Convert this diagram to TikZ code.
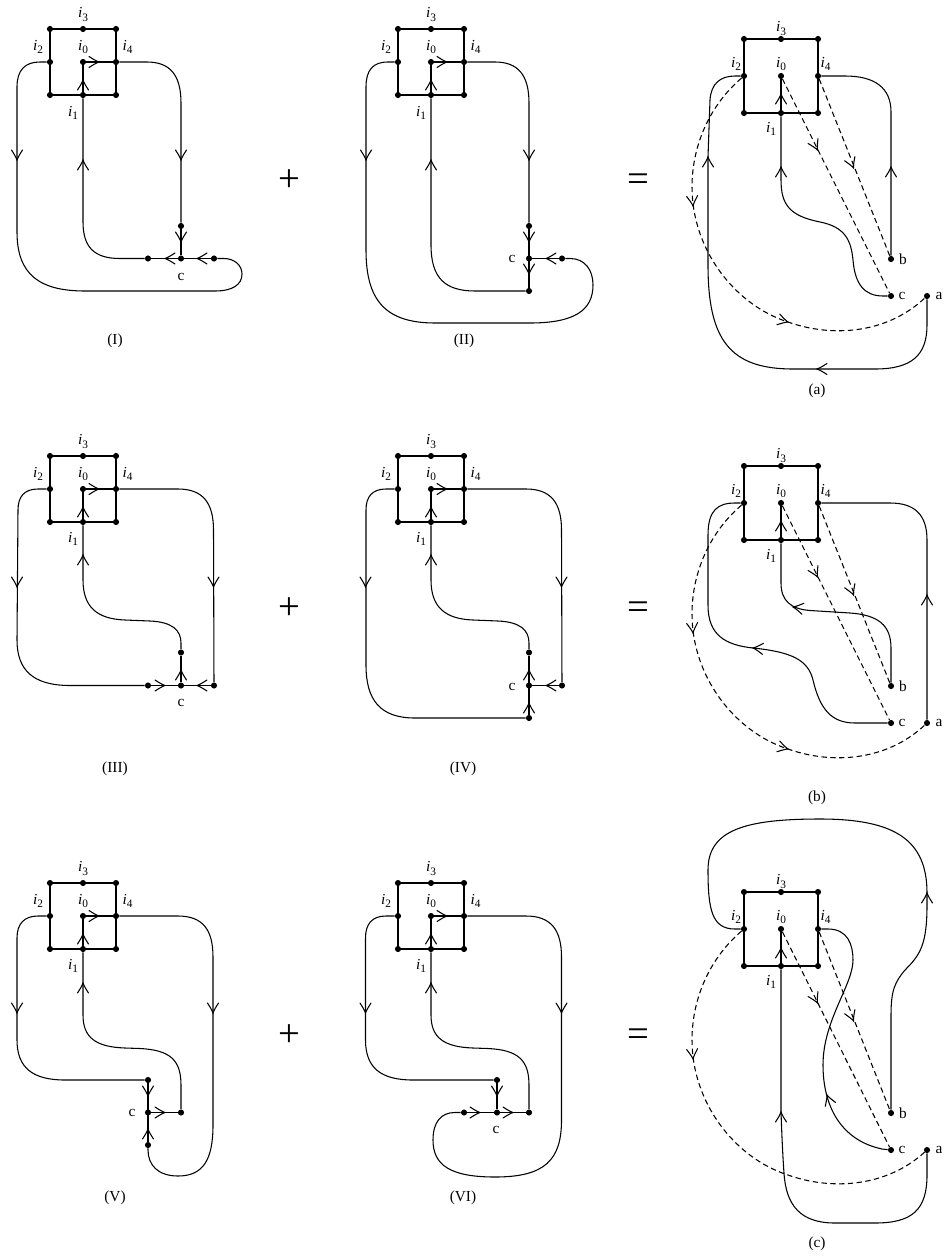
\documentclass[tikz,border=0pt]{standalone}
\usepackage{fontspec}
\setmainfont{Liberation Serif}
\tikzset{
  x=0.75pt,y=-0.75pt,
  dotn/.style={circle,fill=black,draw=none,inner sep=0pt,minimum size=4.6pt},
  lab/.style={inner sep=0pt,font=\fontsize{11.5}{12}\selectfont},
  captn/.style={inner sep=0pt,font=\fontsize{11.5}{12}\selectfont},
  opsign/.style={inner sep=0pt,font=\fontsize{29}{29}\selectfont},
  wire/.style={line width=0.8pt,line join=round},
  dashln/.style={line width=0.8pt,dash pattern=on 4pt off 2.6pt},
  tipln/.style={line width=0.8pt,line cap=round,line join=miter}
}
\newcommand\ilab[1]{\textit{i}\raisebox{-.22em}{\fontsize{8.5}{9}\selectfont #1}}
% #1 name, #2 cx, #3 cy, #4 half side, #5 label row offset, #6 i1 offset
\newcommand\gridbox[6]{%
  \node[dotn] (#1-0) at (#2,#3) {};
  \path (#1-0) ++(-#4,-#4) node[dotn] (#1-nw) {};
  \path (#1-0) ++(0,-#4) node[dotn] (#1-3) {};
  \path (#1-0) ++(#4,-#4) node[dotn] (#1-ne) {};
  \path (#1-0) ++(-#4,0) node[dotn] (#1-2) {};
  \path (#1-0) ++(#4,0) node[dotn] (#1-4) {};
  \path (#1-0) ++(-#4,#4) node[dotn] (#1-sw) {};
  \path (#1-0) ++(0,#4) node[dotn] (#1-1) {};
  \path (#1-0) ++(#4,#4) node[dotn] (#1-se) {};
  \draw[wire] (#1-nw.center) -- (#1-ne.center) -- (#1-se.center) -- (#1-sw.center) -- cycle;
  \draw[wire] (#1-0.center) -- (#1-1.center);
  \path (#1-0) ++(0,-47.5) node[lab] (#1-l3) {\ilab{3}};
  \path (#1-0) ++(-45,#5) node[lab] (#1-l2) {\ilab{2}};
  \path (#1-0) ++(0,#5) node[lab] (#1-l0) {\ilab{0}};
  \path (#1-0) ++(44.5,#5) node[lab] (#1-l4) {\ilab{4}};
  \path (#1-0) ++(-10,#6) node[lab] (#1-l1) {\ilab{1}};
}
\newcommand\vtip[3]{\draw[tipln,shift={(#1,#2)},rotate=#3] (-10,5.5) .. controls (-6,3) and (-3,1) .. (0,0) .. controls (-3,-1) and (-6,-3) .. (-10,-5.5);}
\newcommand\rightdots[2]{%
  % #1 name, #2 vertical shift: shared points a, b, c of the right-hand figures
  \draw[dashln] (#1-0) -- (#1-c);
  \draw[dashln] (#1-4) -- (#1-b);
  \draw[dashln] (#1-2) .. controls (710,{105+#2}) and (692,{145+#2}) .. (692,{187+#2})
     .. controls (692,{250+#2}) and (735,{305+#2}) .. (788,{322+#2})
     .. controls (830,{337+#2}) and (885,{335+#2}) .. (#1-a);
  \vtip{817.5}{150+#2}{-63.4}
  \vtip{853.5}{168+#2}{-68}
  \vtip{693}{206+#2}{-85}
}
\begin{document}
\begin{tikzpicture}
\useasboundingbox (0,0) rectangle (943,1256);
\fill[white] (0,0) rectangle (943,1256);

% ---------- I ----------
\gridbox{I}{83}{62}{33}{-15}{51}
\node[dotn] (I-d) at (181,226) {};
\node[dotn] (I-c) at (181,258.5) {};
\node[dotn] (I-l) at (148,258.5) {};
\node[dotn] (I-r) at (214,258.5) {};
\node[lab] (I-lc) at (181,277) {c};
\node[captn] (I-cap) at (115,341) {(I)};
\draw[wire] (I-0) -- (I-4);
\draw[wire] (I-d) -- (I-c);
\draw[wire] (I-l) -- (I-r);
\draw[wire] (I-4) -- (147,62) .. controls (170,62) and (181,75) .. (181,103) -- (I-d);
\draw[wire] (I-1) -- (83,222) .. controls (83,248) and (95,258.5) .. (120,258.5) -- (I-l);
\draw[wire] (I-2) -- (40,62) .. controls (25,62) and (17,70) .. (17,87) -- (17,232)
   .. controls (17,275) and (40,291) .. (85,291) -- (215,291)
   .. controls (232,291) and (242,285) .. (242,274) .. controls (242,265) and (234,258.5) .. (224,258.5) -- (I-r);
\vtip{99}{62}{0}\vtip{83}{80}{90}\vtip{17}{160}{-90}\vtip{83}{160}{90}\vtip{181}{160}{-90}
\vtip{181}{242}{-90}\vtip{165}{258.5}{180}\vtip{197}{258.5}{180}

% ---------- II ----------
\gridbox{II}{431}{62}{33}{-15}{51}
\node[dotn] (II-d) at (529,226) {};
\node[dotn] (II-c) at (529,258.5) {};
\node[dotn] (II-b) at (529,291) {};
\node[dotn] (II-r) at (562,258.5) {};
\node[lab] (II-lc) at (512,259) {c};
\node[captn] (II-cap) at (464,341) {(II)};
\draw[wire] (II-0) -- (II-4);
\draw[wire] (II-d) -- (II-b);
\draw[wire] (II-c) -- (II-r);
\draw[wire] (II-4) -- (495,62) .. controls (518,62) and (529,75) .. (529,103) -- (II-d);
\draw[wire] (II-1) -- (431,245) .. controls (431,278) and (445,291) .. (475,291) -- (II-b);
\draw[wire] (II-2) -- (388,62) .. controls (373,62) and (366,70) .. (366,87) -- (366,250)
   .. controls (366,300) and (385,323) .. (435,323) -- (530,323)
   .. controls (575,323) and (593,310) .. (593,285) .. controls (593,270) and (585,258.5) .. (570,258.5) -- (II-r);
\vtip{447}{62}{0}\vtip{431}{80}{90}\vtip{366}{160}{-90}\vtip{431}{160}{90}\vtip{529}{160}{-90}
\vtip{529}{242}{-90}\vtip{529}{274}{-90}\vtip{546}{258.5}{180}

% ---------- a ----------
\gridbox{A}{781}{76}{37}{-12}{53}
\node[dotn] (A-b) at (891,259) {};
\node[dotn] (A-c) at (891,296) {};
\node[dotn] (A-a) at (927,296) {};
\node[lab] (A-lb) at (903,259) {b};
\node[lab] (A-lc) at (902,296) {c};
\node[lab] (A-la) at (939,296) {a};
\node[captn] (A-cap) at (817,390.5) {(a)};
\draw[wire] (A-1) -- (781,180) .. controls (781,205) and (790,216) .. (820,222)
   .. controls (845,227) and (851,240) .. (853,260) .. controls (855,285) and (865,296) .. (883,296) -- (A-c);
\draw[wire] (A-b) -- (891,112) .. controls (891,88) and (875,76) .. (845,76) -- (A-4);
\draw[wire] (A-2) -- (735,76) .. controls (720,76) and (711,84) .. (710,100) -- (708,157) -- (708,265)
   .. controls (708,340) and (730,369) .. (793,369) -- (875,369)
   .. controls (912,369) and (927,355) .. (927,325) -- (A-a);
\rightdots{A}{0}
\vtip{781}{94}{90}\vtip{781}{167}{90}\vtip{891}{167}{90}\vtip{708}{157}{90}
\vtip{817}{369}{180}\vtip{788}{322}{-15}

% ---------- III ----------
\gridbox{III}{83}{489}{33}{-15}{50}
\node[dotn] (III-d) at (181,652.5) {};
\node[dotn] (III-c) at (181,685.5) {};
\node[dotn] (III-l) at (148,685.5) {};
\node[dotn] (III-r) at (214,685.5) {};
\node[lab] (III-lc) at (181,703) {c};
\node[captn] (III-cap) at (115,769) {(III)};
\draw[wire] (III-0) -- (III-4);
\draw[wire] (III-d) -- (III-c);
\draw[wire] (III-l) -- (III-r);
\draw[wire] (III-1) -- (83,580) .. controls (83,607) and (97,619) .. (125,620) -- (150,621) .. controls (172,622) and (181,630) .. (181,643) -- (III-d);
\draw[wire] (III-4) -- (178,489) .. controls (203,489) and (213.5,503) .. (213.5,530) -- (III-r);
\draw[wire] (III-2) -- (38,489) .. controls (24,489) and (18,497) .. (18,510) -- (17,640) .. controls (17,670) and (33,685.5) .. (70,685.5) -- (III-l);
\vtip{99}{489}{0}\vtip{83}{507}{90}\vtip{17}{587}{-90}\vtip{83}{555}{90}\vtip{213.5}{587}{-90}
\vtip{181}{670}{90}\vtip{165}{685.5}{0}\vtip{197}{685.5}{180}

% ---------- IV ----------
\gridbox{IV}{431}{489}{33}{-15}{50}
\node[dotn] (IV-d) at (529,652.5) {};
\node[dotn] (IV-c) at (529,685.5) {};
\node[dotn] (IV-b) at (529,718) {};
\node[dotn] (IV-r) at (562,685.5) {};
\node[lab] (IV-lc) at (512,687) {c};
\node[captn] (IV-cap) at (463,769) {(IV)};
\draw[wire] (IV-0) -- (IV-4);
\draw[wire] (IV-d) -- (IV-b);
\draw[wire] (IV-c) -- (IV-r);
\draw[wire] (IV-1) -- (431,580) .. controls (431,607) and (445,619) .. (473,620) -- (498,621) .. controls (520,622) and (529,630) .. (529,643) -- (IV-d);
\draw[wire] (IV-4) -- (526,489) .. controls (551,489) and (561.5,503) .. (561.5,530) -- (IV-r);
\draw[wire] (IV-2) -- (386,489) .. controls (372,489) and (366,497) .. (366,510) -- (366,665) .. controls (366,700) and (380,718) .. (415,718) -- (IV-b);
\vtip{447}{489}{0}\vtip{431}{507}{90}\vtip{365.5}{587}{-90}\vtip{431}{555}{90}\vtip{561.5}{587}{-90}
\vtip{529}{670}{90}\vtip{529}{703}{90}\vtip{546}{685.5}{180}

% ---------- b ----------
\gridbox{B}{781}{503}{37}{-12}{53}
\node[dotn] (B-b) at (891,686) {};
\node[dotn] (B-c) at (891,723) {};
\node[dotn] (B-a) at (927,723) {};
\node[lab] (B-lb) at (903,686) {b};
\node[lab] (B-lc) at (902,723) {c};
\node[lab] (B-la) at (939,723) {a};
\node[captn] (B-cap) at (817,797.5) {(b)};
\draw[wire] (B-1) -- (781,583) .. controls (781,600) and (790,609) .. (810,610.5) -- (850,613) .. controls (878,615) and (891,625) .. (891,648) -- (B-b);
\draw[wire] (B-2) -- (735,503) .. controls (718,503) and (708,510) .. (708,535) -- (708,605)
   .. controls (708,635) and (725,645) .. (753,648) .. controls (792,652) and (808,660) .. (813,680)
   .. controls (820,710) and (832,723) .. (855,723) -- (B-c);
\draw[wire] (B-a) -- (927,540) .. controls (927,515) and (915,503) .. (890,503) -- (B-4);
\rightdots{B}{427}
\vtip{781}{521}{90}\vtip{793}{607}{170}\vtip{753}{648}{175}\vtip{927}{595}{90}\vtip{788}{749}{-15}

% ---------- V ----------
\gridbox{V}{83}{916}{33}{-15}{50}
\node[dotn] (V-u) at (148,1080) {};
\node[dotn] (V-c) at (148,1112.5) {};
\node[dotn] (V-w) at (148,1145) {};
\node[dotn] (V-r) at (181,1112.5) {};
\node[lab] (V-lc) at (132,1113) {c};
\node[captn] (V-cap) at (115,1197.5) {(V)};
\draw[wire] (V-0) -- (V-4);
\draw[wire] (V-u) -- (V-w);
\draw[wire] (V-c) -- (V-r);
\draw[wire] (V-1) -- (83,1015) .. controls (83,1037) and (95,1047) .. (125,1048) -- (140,1048.5) .. controls (170,1050) and (181,1060) .. (181,1085) -- (V-r);
\draw[wire] (V-2) -- (38,916) .. controls (24,916) and (17,924) .. (17,938) -- (17,1040) .. controls (17,1068) and (33,1080) .. (65,1080) -- (V-u);
\draw[wire] (V-4) -- (178,916) .. controls (203,916) and (213,930) .. (213,957) -- (213,1125)
   .. controls (213,1160) and (203,1176) .. (178,1176) .. controls (158,1176) and (148,1165) .. (148,1150) -- (V-w);
\vtip{99}{916}{0}\vtip{83}{934}{90}\vtip{17}{1013}{-90}\vtip{83}{983}{90}\vtip{213}{1013}{-90}
\vtip{148}{1096}{-90}\vtip{165}{1112.5}{0}\vtip{148}{1129}{90}

% ---------- VI ----------
\gridbox{VI}{431}{916}{33}{-15}{50}
\node[dotn] (VI-u) at (497,1080) {};
\node[dotn] (VI-c) at (497,1112.5) {};
\node[dotn] (VI-l) at (464,1112.5) {};
\node[dotn] (VI-r) at (529,1112.5) {};
\node[lab] (VI-lc) at (496,1130) {c};
\node[captn] (VI-cap) at (463,1197.5) {(VI)};
\draw[wire] (VI-0) -- (VI-4);
\draw[wire] (VI-u) -- (VI-c);
\draw[wire] (VI-l) -- (VI-r);
\draw[wire] (VI-1) -- (431,1015) .. controls (431,1037) and (443,1047) .. (473,1048) -- (488,1048.5) .. controls (518,1050) and (529,1060) .. (529,1085) -- (VI-r);
\draw[wire] (VI-2) -- (386,916) .. controls (372,916) and (365.5,924) .. (365.5,938) -- (365.5,1040) .. controls (365.5,1068) and (381,1080) .. (413,1080) -- (VI-u);
\draw[wire] (VI-4) -- (526,916) .. controls (551,916) and (561.5,930) .. (561.5,957) -- (561.5,1120)
   .. controls (561.5,1160) and (545,1177) .. (495,1177) .. controls (450,1177) and (433,1165) .. (433,1140)
   .. controls (433,1122) and (441,1112.5) .. (455,1112.5) -- (VI-l);
\vtip{447}{916}{0}\vtip{431}{934}{90}\vtip{365.5}{1013}{-90}\vtip{431}{983}{90}\vtip{561.5}{1013}{-90}
\vtip{497}{1096}{-90}\vtip{480}{1112.5}{0}\vtip{513}{1112.5}{0}

% ---------- c ----------
\gridbox{C}{781}{929}{37}{-12}{53}
\node[dotn] (C-b) at (891,1113) {};
\node[dotn] (C-c) at (891,1150) {};
\node[dotn] (C-a) at (927,1150) {};
\node[lab] (C-lb) at (903,1113) {b};
\node[lab] (C-lc) at (902,1150) {c};
\node[lab] (C-la) at (939,1150) {a};
\node[captn] (C-cap) at (817,1243.5) {(c)};
\draw[wire] (C-1) -- (781,1112) .. controls (782,1140) and (783,1160) .. (784,1173)
   .. controls (786,1205) and (800,1223) .. (835,1223) -- (875,1223)
   .. controls (912,1223) and (927,1210) .. (927,1175) -- (C-a);
\draw[wire] (C-b) -- (891,1015) .. controls (891,990) and (895,982) .. (905,970)
   .. controls (920,955) and (927,945) .. (927,905) -- (927,893)
   .. controls (927,840) and (895,819) .. (820,819) .. controls (745,819) and (708,830) .. (708,870)
   .. controls (708,910) and (712,929) .. (735,929) -- (C-2);
\draw[wire] (C-4) -- (828,929) .. controls (848,929) and (853,945) .. (853,960)
   .. controls (853,985) and (823,1020) .. (823,1065) .. controls (823,1105) and (840,1140) .. (882,1149) -- (C-c);
\rightdots{C}{853}
\vtip{781}{948}{90}\vtip{781}{1112}{90}\vtip{927}{893}{90}\vtip{827}{1095}{110}

% ---------- operators ----------
\node[opsign] (plus1) at (289,181) {+};
\node[opsign] (plus2) at (289,609) {+};
\node[opsign] (plus3) at (289,1036) {+};
\node[opsign] (eq1) at (638,183) {=};
\node[opsign] (eq2) at (638,611) {=};
\node[opsign] (eq3) at (638,1038) {=};
\end{tikzpicture}
\end{document}
